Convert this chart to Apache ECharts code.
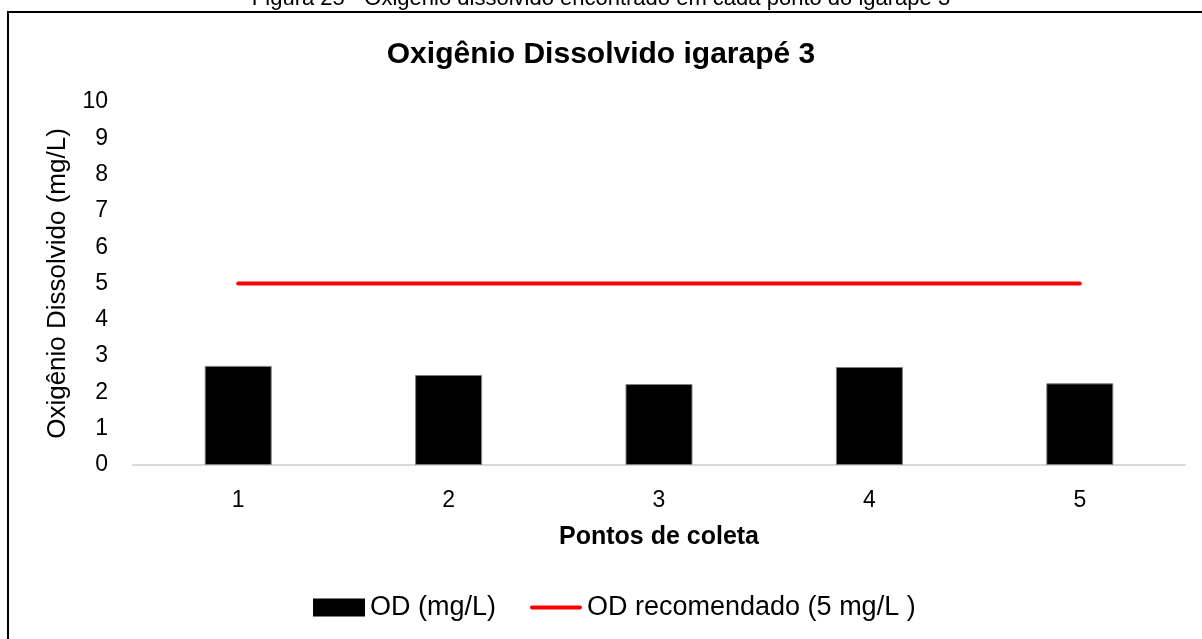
<!DOCTYPE html>
<html>
<head>
<meta charset="utf-8">
<script src="https://cdn.jsdelivr.net/npm/echarts@6/dist/echarts.min.js"></script>
<style>
  html, body { margin: 0; padding: 0; background: #fff; }
  #chart { width: 1202px; height: 639px; }
</style>
</head>
<body>
<div id="chart"></div>
<script>
// pontos de coleta
const pontos = ['1', '2', '3', '4', '5'];
// OD medido em cada ponto (mg/L)
const odMedido = [2.73, 2.48, 2.23, 2.70, 2.25];
// valor recomendado
const odRecomendado = [5, 5, 5, 5, 5];

const FONT = '"Liberation Sans", Arial, sans-serif';

const chart = echarts.init(document.getElementById('chart'), null, { renderer: 'canvas' });

const option = {
  backgroundColor: '#fff',
  animation: false,
  title: {
    text: 'Oxigênio Dissolvido igarapé 3',
    left: 'center',
    top: 35,
    textStyle: { fontFamily: FONT, fontSize: 30, fontWeight: 'bold', color: '#000' }
  },
  graphic: [
    {
      type: 'rect',
      shape: { x: 8, y: 12, width: 1220, height: 660 },
      style: { fill: 'none', stroke: '#000', lineWidth: 2 },
      z: -1
    },
    {
      type: 'text',
      x: 601,
      y: 10,
      style: {
        text: 'Figura 25 - Oxigênio dissolvido encontrado em cada ponto do igarapé 3',
        font: '22px "Liberation Sans", Arial, sans-serif',
        fill: '#000',
        align: 'center',
        verticalAlign: 'bottom'
      }
    }
  ],
  legend: {
    bottom: 13,
    left: 308,
    itemWidth: 52,
    itemHeight: 18,
    itemGap: 34,
    textStyle: { fontFamily: FONT, fontSize: 27, color: '#000' },
    data: [
      { name: 'OD (mg/L)', icon: 'rect', itemStyle: { borderWidth: 0 } },
      { name: 'OD recomendado (5 mg/L )', icon: 'path://M2,0H50A2,2,0,0,1,50,4H2A2,2,0,0,1,2,0Z' }
    ]
  },
  grid: { left: 133, right: 17, top: 102, bottom: 174 },
  xAxis: {
    type: 'category',
    data: pontos,
    name: 'Pontos de coleta',
    nameLocation: 'middle',
    nameGap: 60,
    nameTextStyle: { fontFamily: FONT, fontSize: 25, fontWeight: 'bold', color: '#000', verticalAlign: 'top' },
    axisLine: { lineStyle: { color: '#d9d9d9', width: 2 } },
    axisTick: { show: false },
    axisLabel: { fontFamily: FONT, fontSize: 23, color: '#000', margin: 24 }
  },
  yAxis: {
    type: 'value',
    min: 0,
    max: 10,
    interval: 1,
    name: 'Oxigênio Dissolvido (mg/L)',
    nameLocation: 'middle',
    nameGap: 62,
    nameTextStyle: { fontFamily: FONT, fontSize: 26, color: '#000' },
    axisLine: { show: false },
    axisTick: { show: false },
    splitLine: { show: false },
    axisLabel: { fontFamily: FONT, fontSize: 23, color: '#000', margin: 25 }
  },
  series: [
    {
      name: 'OD (mg/L)',
      type: 'bar',
      data: odMedido,
      barWidth: 67,
      itemStyle: { color: '#000', borderColor: '#7f7f7f', borderWidth: 1 }
    },
    {
      name: 'OD recomendado (5 mg/L )',
      type: 'line',
      data: odRecomendado,
      symbol: 'none',
      lineStyle: { color: '#ff0000', width: 4, cap: 'round' },
      itemStyle: { color: '#ff0000' }
    }
  ]
};

chart.setOption(option);
</script>
</body>
</html>
